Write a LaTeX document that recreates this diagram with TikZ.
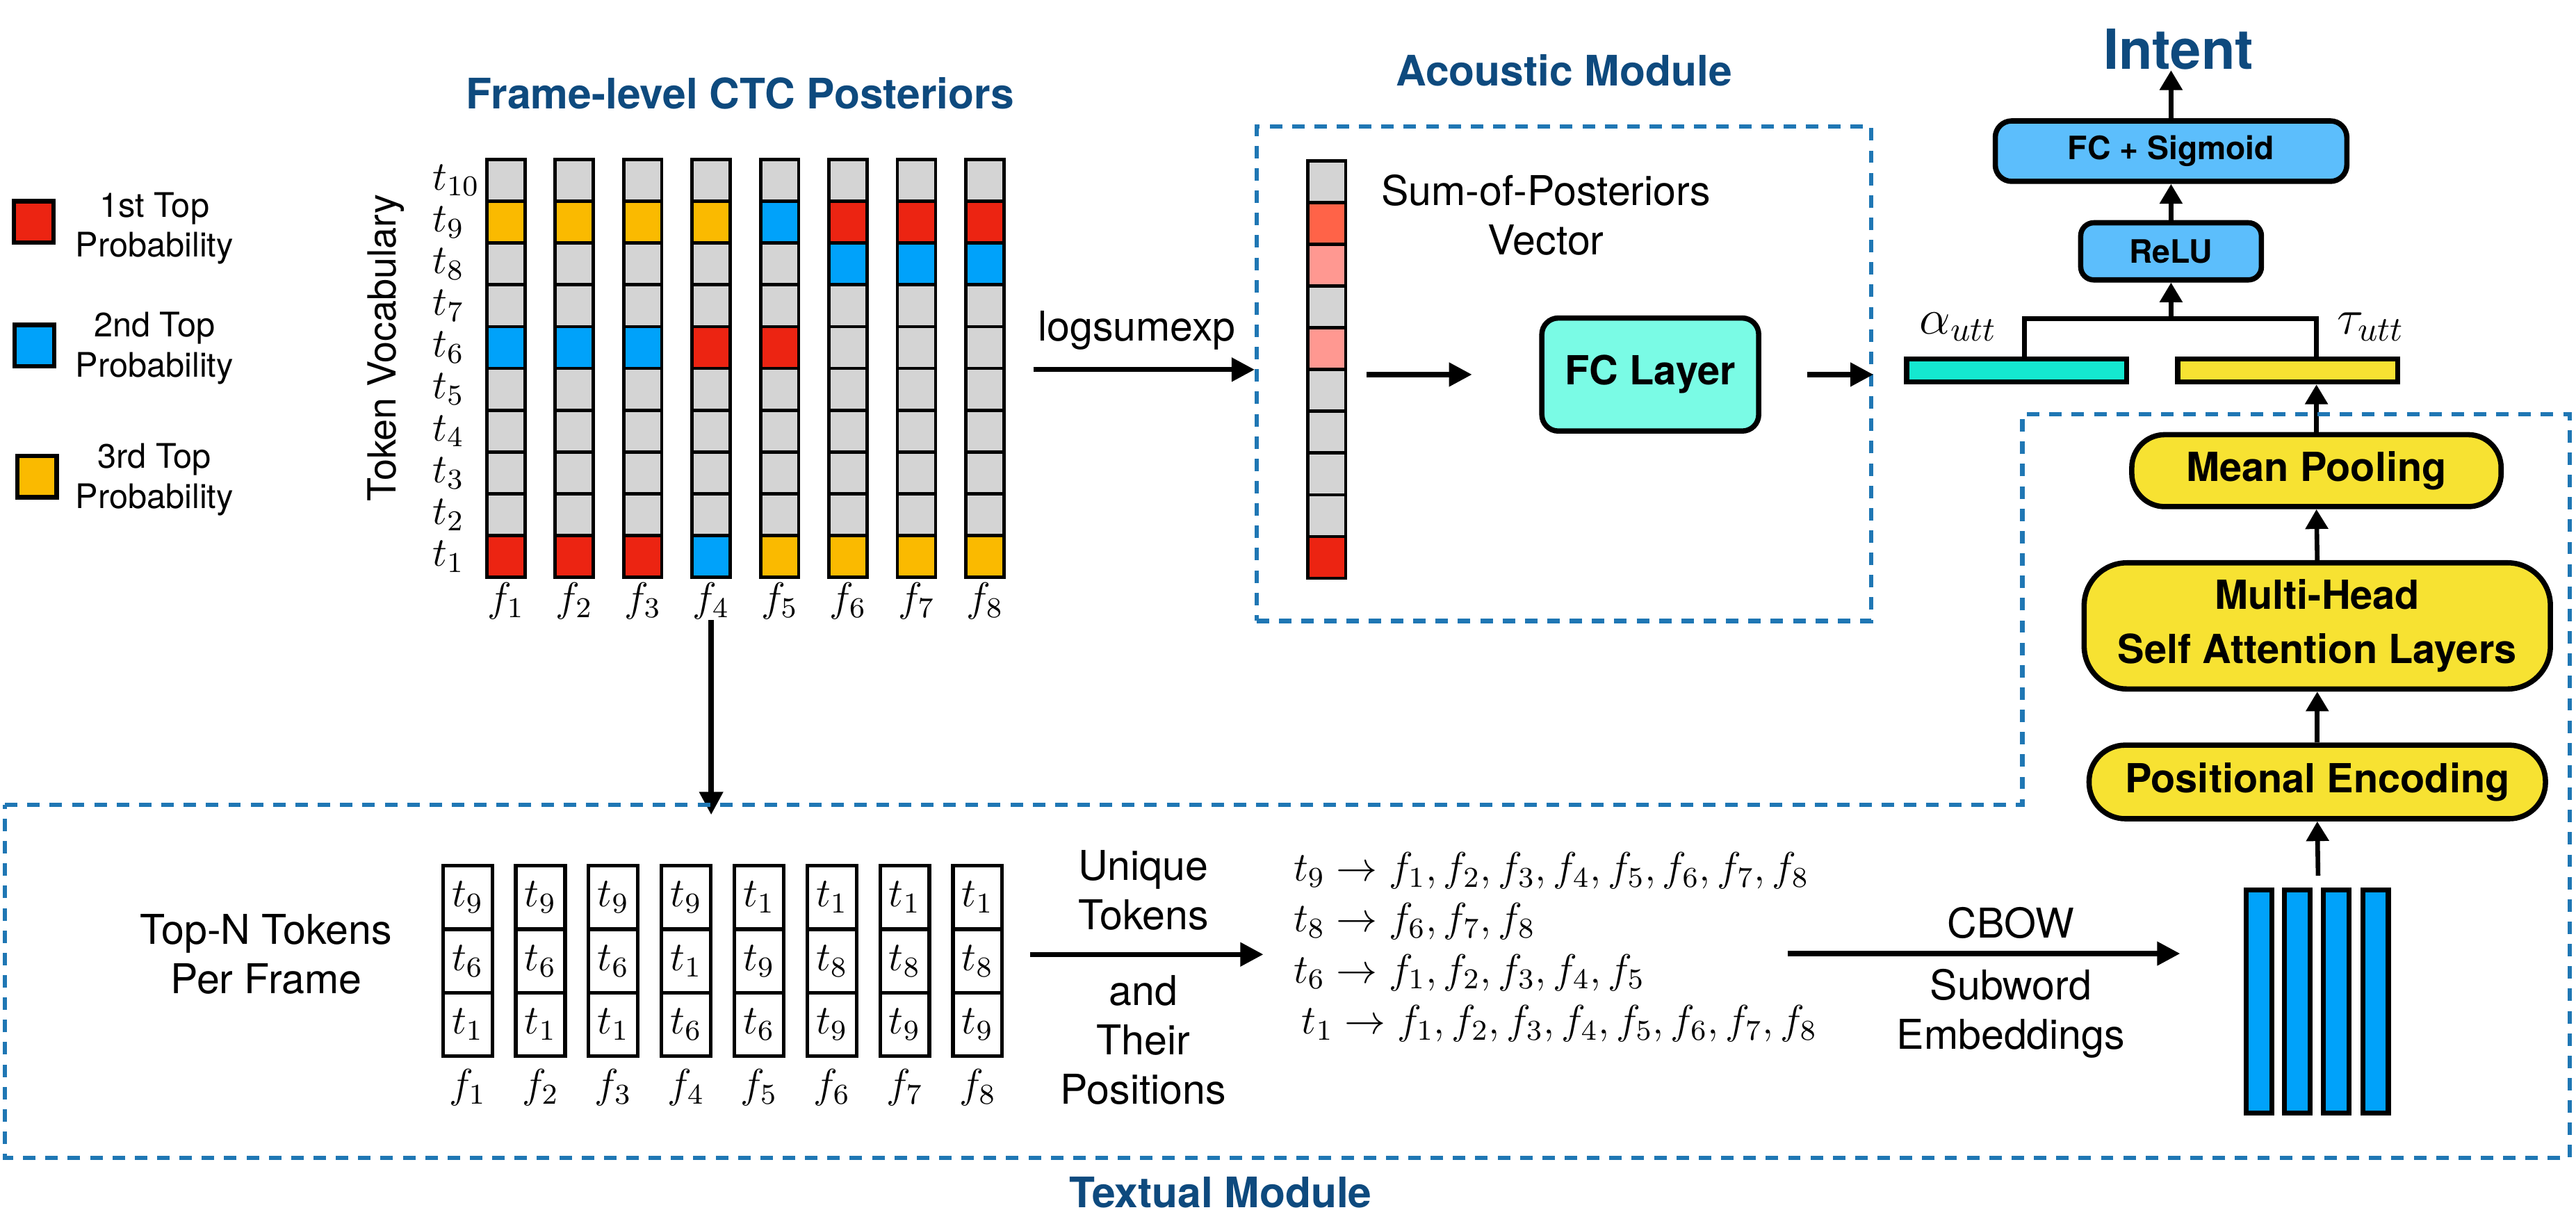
\RequirePackage{fix-cm}
\documentclass[tikz,border=0pt]{standalone}
\usepackage{fontspec}
\setmainfont{TeX Gyre Heros}
\usetikzlibrary{arrows.meta,calc}
\definecolor{cgray}{RGB}{212,212,212}
\definecolor{cred}{RGB}{236,36,18}
\definecolor{cblu}{RGB}{0,162,250}
\definecolor{cyel}{RGB}{250,186,0}
\definecolor{csal}{RGB}{255,99,72}
\definecolor{cpink}{RGB}{255,152,145}
\definecolor{caqua}{RGB}{122,251,229}
\definecolor{clblue}{RGB}{92,190,252}
\definecolor{cturq}{RGB}{20,232,208}
\definecolor{cyel2}{RGB}{247,226,50}
\definecolor{tblue}{RGB}{14,74,126}
\definecolor{dblue}{RGB}{31,119,180}
\tikzset{
  title/.style={font=\fontsize{12.8}{15}\selectfont\bfseries, text=tblue, inner sep=0},
  lbl/.style={font=\fontsize{12.5}{15}\selectfont, align=center, inner sep=0},
  legtxt/.style={font=\fontsize{10.3}{12.2}\selectfont, align=center, inner sep=0},
  mth/.style={font=\fontsize{12.5}{15}\selectfont, inner sep=0},
  cell/.style={draw, line width=1pt, minimum width=11.6pt, minimum height=12.72pt, inner sep=0, fill=cgray},
  tkcell/.style={draw, line width=1.1pt, minimum width=15pt, minimum height=19.33pt, inner sep=0, font=\fontsize{12.5}{15}\selectfont},
  rbox/.style={draw, line width=1.6pt, align=center, inner sep=0},
  bfa/.style={font=\fontsize{12.2}{16.4}\selectfont\bfseries},
  bfb/.style={font=\fontsize{9.8}{12}\selectfont\bfseries},
  legsq/.style={draw, line width=1.3pt, minimum width=12pt, minimum height=12.5pt, inner sep=0},
  bar/.style={draw, line width=1.55pt, inner sep=0},
  arr/.style={-{Triangle[length=7pt,width=7pt]}, line width=1.55pt},
  sarr/.style={-{Triangle[length=6pt,width=6.7pt]}, line width=1.4pt},
  dashbox/.style={draw=dblue, line width=1.3pt, dash pattern=on 3.8pt off 3pt}
}
\begin{document}
\begin{tikzpicture}[x=0.5pt, y=-0.5pt]
\useasboundingbox (0,0) rectangle (1568,746);

% titles
\node[title] (ttl1) at (450.6,56.7) {Frame-level CTC Posteriors};
\node[title] (ttl2) at (952,43) {Acoustic Module};
\node[title] (ttl3) at (743,726) {Textual Module};
\node[font=\fontsize{16.8}{20}\selectfont\bfseries, text=tblue, inner sep=0] (intent) at (1326,30) {Intent};

% legend
\node[legsq, fill=cred] (lr) at (20.5,135) {};
\node[legsq, fill=cblu] (lb) at (21,210.3) {};
\node[legsq, fill=cyel] (ly) at (22.5,290.2) {};
\node[legtxt] (lrt) at (94,139) {1st Top\\Probability};
\node[legtxt] (lbt) at (94,212) {2nd Top\\Probability};
\node[legtxt] (lyt) at (94,292) {3rd Top\\Probability};

% token vocabulary
\node[rotate=90, font=\fontsize{11.8}{14}\selectfont, inner sep=0] (tv) at (235,211.6) {Token Vocabulary};

% grid
\foreach \i/\a/\b/\c/\d in {1/cyel/cgray/cblu/cred,2/cyel/cgray/cblu/cred,3/cyel/cgray/cblu/cred,4/cyel/cgray/cred/cblu,5/cblu/cgray/cred/cyel,6/cred/cblu/cgray/cyel,7/cred/cblu/cgray/cyel,8/cred/cblu/cgray/cyel}{
  \foreach \r in {1,...,10}{
    \edef\fc{cgray}%
    \ifnum\r=9 \edef\fc{\a}\fi
    \ifnum\r=8 \edef\fc{\b}\fi
    \ifnum\r=6 \edef\fc{\c}\fi
    \ifnum\r=1 \edef\fc{\d}\fi
    \node[cell, fill=\fc] (g\i-\r) at ({307.9+(\i-1)*41.66},{97+(10-\r)*25.45+12.72}) {};
  }
  \node[mth] (gf\i) at ({307.9+(\i-1)*41.66},366) {$f_{\i}$};
}
\foreach \r in {1,...,10}{
  \node[mth, anchor=west] (gt\r) at (263,{97+(10-\r)*25.45+12.72}) {$t_{\r}$};
}

% acoustic module
\node[dashbox, minimum width=187pt, minimum height=150.5pt, inner sep=0] (acbox) at (952,227.5) {};
\coordinate (lsa) at (629,225);
\draw[arr] (lsa) -- (lsa -| acbox.west);
\node[lbl] (lse) at (692,201) {logsumexp};

\foreach \r/\cc in {10/cgray,9/csal,8/cpink,7/cgray,6/cpink,5/cgray,4/cgray,3/cgray,2/cgray,1/cred}{
  \node[cell, fill=\cc] (s\r) at (807.5,{98+(10-\r)*25.4+12.7}) {};
}
\node[lbl] (spv) at (941,131) {Sum-of-Posteriors\\Vector};

\node[rbox, bfa, fill=caqua, minimum width=66pt, minimum height=34.4pt, rounded corners=5pt] (fc) at (1004.5,228) {FC Layer};
\coordinate (va) at (832,228);
\coordinate (vb) at (896,228);
\draw[arr] (va) -- (vb);
\coordinate (fa) at (1100,228);
\draw[arr] (fa) -- (fa -| acbox.east);

% fusion
\node[bar, fill=cturq, minimum width=67pt, minimum height=7pt] (alpha) at (1227.5,225.5) {};
\node[bar, fill=cyel2, minimum width=67pt, minimum height=7pt] (tau) at (1392.5,225.5) {};
\node[font=\fontsize{15}{17}\selectfont, inner sep=0] (al) at (1192,199) {$\alpha_{utt}$};
\node[font=\fontsize{15}{17}\selectfont, inner sep=0] (tl) at (1443,199) {$\tau_{utt}$};

\node[rbox, bfb, fill=clblue, minimum width=55pt, minimum height=17.4pt, rounded corners=4pt] (relu) at (1321.5,153) {ReLU};
\node[rbox, bfb, fill=clblue, minimum width=107pt, minimum height=18.4pt, rounded corners=5pt] (fcs) at (1321.5,92) {FC + Sigmoid};
\draw[sarr] (fcs.north) -- (fcs.north |- intent.south);
\draw[sarr] (relu.north) -- (fcs.south);

% textual module
\node[rbox, bfa, fill=cyel2, minimum width=112.4pt, minimum height=21.9pt, rounded corners=10pt] (mp) at (1410,286.5) {Mean Pooling};
\node[rbox, bfa, fill=cyel2, minimum width=141.9pt, minimum height=38.4pt, rounded corners=13pt] (mh) at (1410.5,381) {Multi-Head\\Self Attention Layers};
\node[rbox, bfa, fill=cyel2, minimum width=138.9pt, minimum height=22.4pt, rounded corners=11pt] (pe) at (1410.5,476) {Positional Encoding};

\coordinate (jn) at (1321.5,194);
\draw[line width=1.4pt] ([xshift=2.4pt]alpha.north) |- (jn) -| (tau.north -| mp.north);
\draw[sarr] (jn) -- (relu.south);
\draw[sarr] (mp.north) -- (mp.north |- tau.south);
\draw[sarr] (mh.north) -- (mp.south);
\draw[sarr] (pe.north) -- (mh.south);

\foreach \k/\x in {1/1375,2/1398.4,3/1422,4/1446}{
  \node[bar, fill=cblu, minimum width=7.8pt, minimum height=67.9pt] (e\k) at (\x,609.7) {};
}
\coordinate (ea) at (1411,533);
\draw[sarr] (ea) -- (pe.south);

\coordinate (tmtip) at (433,496);
\draw[arr] (gf4.south) -- (gf4.south |- tmtip);
\draw[dashbox] (3,490) -- (1231,490) -- (1231,252) -- (1564,252) -- (1564,705) -- (3,705) -- cycle;

\node[lbl] (tn) at (162,581) {Top-N Tokens\\Per Frame};
\foreach \i/\p/\q/\s in {1/9/6/1,2/9/6/1,3/9/6/1,4/9/1/6,5/1/9/6,6/1/8/9,7/1/8/9,8/1/8/9}{
  \node[tkcell] (k\i-a) at ({284.6+(\i-1)*44.35},546.3) {$t_{\p}$};
  \node[tkcell] (k\i-b) at ({284.6+(\i-1)*44.35},585) {$t_{\q}$};
  \node[tkcell] (k\i-c) at ({284.6+(\i-1)*44.35},623.7) {$t_{\s}$};
  \node[mth] (kf\i) at ({284.6+(\i-1)*44.35},662) {$f_{\i}$};
}

\coordinate (u1) at (627,581);
\coordinate (u2) at (769,581);
\draw[arr] (u1) -- (u2);
\node[lbl] (ut) at (696,542) {Unique\\Tokens};
\node[lbl] (tp) at (696,633) {and\\Their\\Positions};

\node[mth, anchor=west] (m1) at (787,530) {$t_9 \rightarrow f_1, f_2, f_3, f_4, f_5, f_6, f_7, f_8$};
\node[mth, anchor=west] (m2) at (787,561) {$t_8 \rightarrow f_6, f_7, f_8$};
\node[mth, anchor=west] (m3) at (787,592) {$t_6 \rightarrow f_1, f_2, f_3, f_4, f_5$};
\node[mth, anchor=west] (m4) at (792,623) {$t_1 \rightarrow f_1, f_2, f_3, f_4, f_5, f_6, f_7, f_8$};

\coordinate (cb1) at (1088,580.5);
\coordinate (cb2) at (1327,580.5);
\draw[arr] (cb1) -- (cb2);
\node[lbl] (cbow) at (1224,562) {CBOW};
\node[lbl] (sube) at (1224,617) {Subword\\Embeddings};
\end{tikzpicture}
\end{document}
